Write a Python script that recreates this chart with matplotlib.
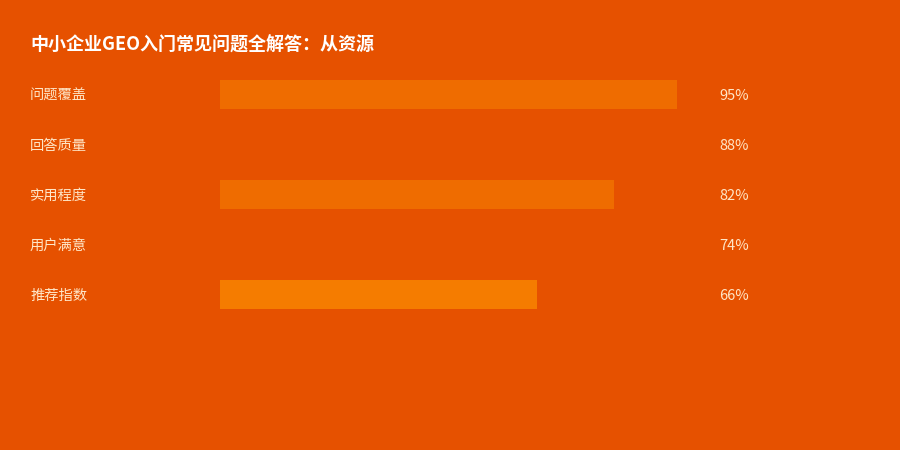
import matplotlib
matplotlib.use("Agg")
import matplotlib.pyplot as plt

categories = ["问题覆盖", "回答质量", "实用程度", "用户满意", "推荐指数"]
values = [95, 88, 82, 74, 66]
bar_colors = ["#EF6C00", "#E65100", "#EF6C00", "#E65100", "#F57C00"]
title = "中小企业GEO入门常见问题全解答：从资源"

plt.rcParams['font.family'] = ['Noto Sans CJK SC', 'DejaVu Sans']
BG = "#E65100"
TXT = "#FFE6C7"

fig = plt.figure(figsize=(9, 4.5), dpi=100, facecolor=BG)
W, H = 900, 450
left, right = 220, 701
top, bottom = 69.5, 319.5
ax = fig.add_axes([left / W, 1 - bottom / H, (right - left) / W, (bottom - top) / H])
ax.set_facecolor(BG)
ax.patch.set_alpha(0)
ypos = list(range(len(categories)))
ax.barh(ypos, values, height=0.58, color=bar_colors, left=0)
ax.set_xlim(0, 100)
ax.set_ylim(len(categories) - 0.5, -0.5)
ax.axis("off")

for i, (c, v) in enumerate(zip(categories, values)):
    yp = 1 - (top + 50 * i + 26.5) / H
    fig.text(30 / W, yp, c, color=TXT, fontsize=10.3, va="center", ha="left")
    fig.text(719.5 / W, yp, f"{v}%", color=TXT, fontsize=10.5, va="center", ha="left")

fig.text(30 / W, 1 - 45 / H, title, color="white", fontsize=13,
         fontweight="bold", va="center", ha="left")

fig.savefig("out.png", dpi=100, facecolor=BG)
